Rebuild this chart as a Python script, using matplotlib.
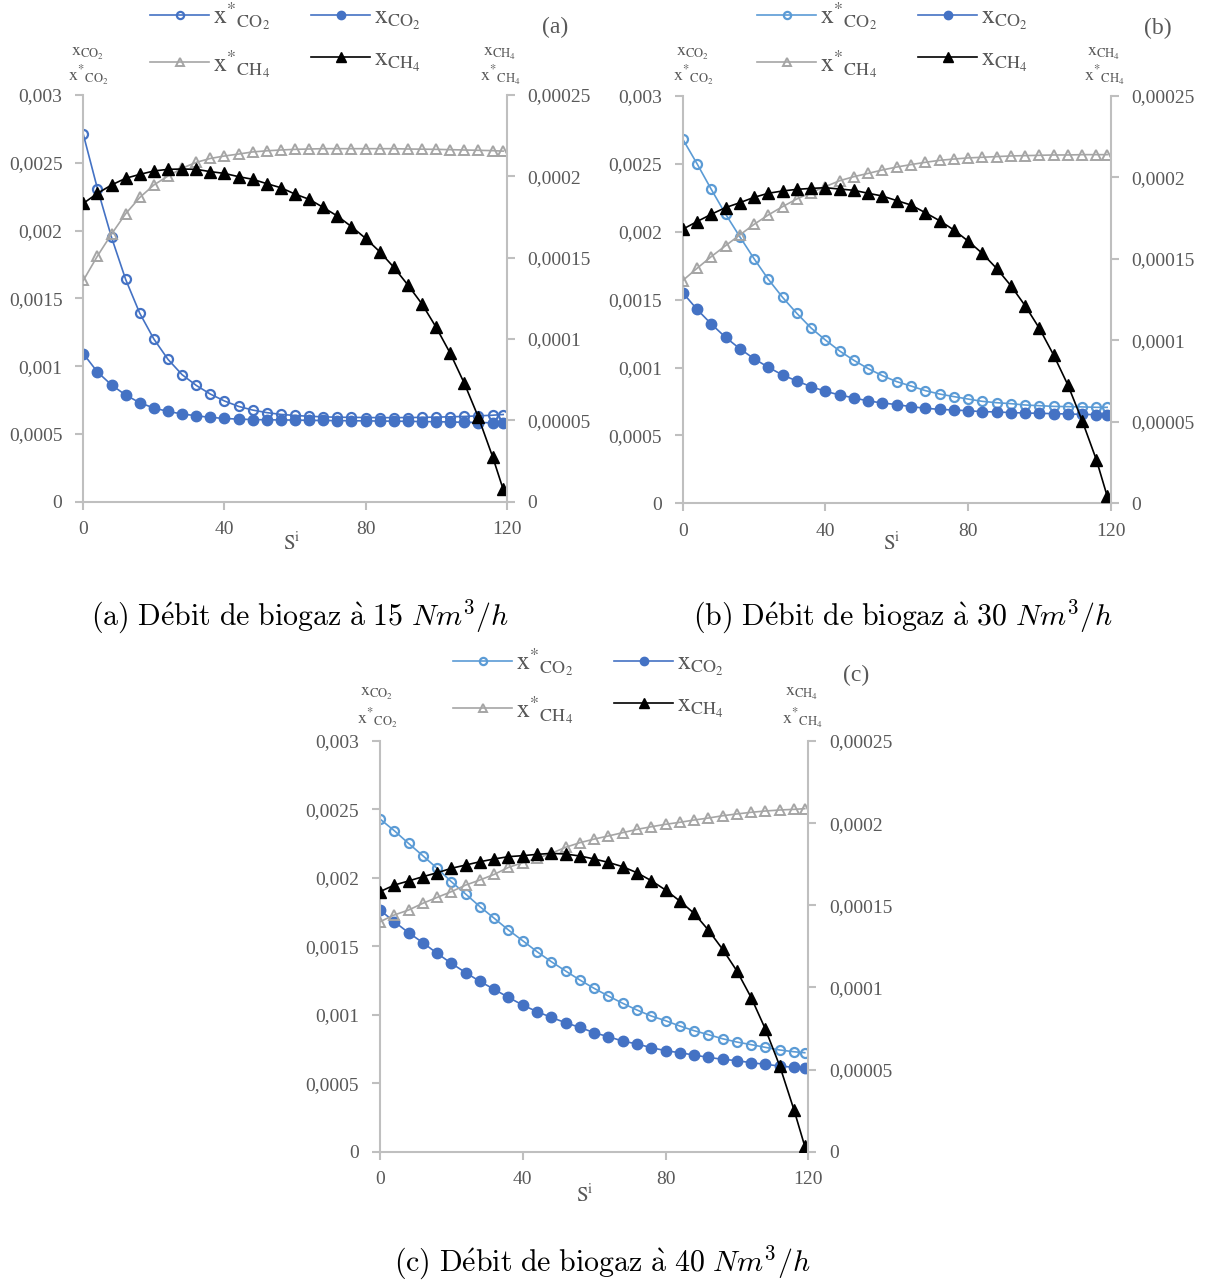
import matplotlib
matplotlib.use("Agg")
import matplotlib.pyplot as plt
from matplotlib.font_manager import FontProperties

W, H = 1205, 1282

STAGES = [0, 4, 8, 12, 16, 20, 24, 28, 32, 36, 40, 44, 48, 52, 56, 60,
          64, 68, 72, 76, 80, 84, 88, 92, 96, 100, 104, 108, 112, 116, 119]

# (a) 15 Nm3/h
A_XS_CO2 = [0.00271, 0.00231, 0.00195, 0.00164, 0.00139, 0.00120, 0.00105, 0.000937,
            0.000858, 0.000794, 0.000743, 0.000703, 0.000676, 0.000657, 0.000644, 0.000636,
            0.00063, 0.000626, 0.000623, 0.000622, 0.000621, 0.00062, 0.00062, 0.000621,
            0.000622, 0.000624, 0.000626, 0.000629, 0.000633, 0.000638, 0.000643]
A_X_CO2 = [0.001092, 0.000957, 0.000861, 0.000787, 0.00073, 0.000691, 0.000666, 0.000647,
           0.000634, 0.000622, 0.000614, 0.000609, 0.000606, 0.000604, 0.000603, 0.000602,
           0.0006, 0.000599, 0.000598, 0.000597, 0.000596, 0.000595, 0.000594, 0.000593,
           0.000591, 0.00059, 0.000588, 0.000586, 0.000584, 0.000582, 0.00058]
A_XS_CH4 = [0.000136, 0.000151, 0.0001645, 0.000177, 0.000187, 0.0001947, 0.0002002, 0.000205,
            0.0002086, 0.000211, 0.0002125, 0.0002137, 0.000215, 0.0002157, 0.0002162, 0.0002166,
            0.0002168, 0.000217, 0.000217, 0.000217, 0.000217, 0.000217, 0.000217, 0.0002168,
            0.0002167, 0.0002166, 0.0002164, 0.0002162, 0.000216, 0.0002158, 0.0002155]
A_X_CH4 = [0.0001834, 0.0001895, 0.0001947, 0.0001988, 0.0002012, 0.0002033, 0.0002043, 0.0002045,
           0.0002043, 0.0002029, 0.0002018, 0.0001998, 0.0001982, 0.0001955, 0.000193, 0.0001891,
           0.0001859, 0.0001809, 0.0001756, 0.0001691, 0.0001619, 0.0001537, 0.0001441, 0.0001332,
           0.0001215, 0.0001072, 0.0000912, 0.0000727, 0.0000518, 0.0000277, 0.0000076]

# (b) 30 Nm3/h
B_XS_CO2 = [0.002683, 0.002502, 0.002313, 0.002131, 0.001964, 0.001802, 0.00165, 0.001517,
            0.001399, 0.001291, 0.001203, 0.001122, 0.001053, 0.000992, 0.00094, 0.000896,
            0.000864, 0.00083, 0.000805, 0.000786, 0.000768, 0.000751, 0.000741, 0.000734,
            0.000724, 0.000719, 0.000714, 0.000712, 0.00071, 0.000707, 0.000707]
B_X_CO2 = [0.001552, 0.001429, 0.001321, 0.001223, 0.001139, 0.001065, 0.001002, 0.000945,
           0.000901, 0.000859, 0.000825, 0.000798, 0.000776, 0.000754, 0.000739, 0.000727,
           0.000712, 0.0007, 0.000692, 0.000687, 0.000682, 0.000675, 0.000673, 0.000668,
           0.000665, 0.000663, 0.00066, 0.000658, 0.000655, 0.000653, 0.000653]
B_XS_CH4 = [0.0001367, 0.0001442, 0.0001514, 0.0001581, 0.0001647, 0.0001712, 0.000177, 0.0001821,
            0.0001868, 0.0001907, 0.0001944, 0.000198, 0.0002005, 0.0002025, 0.0002046, 0.0002064,
            0.0002079, 0.0002093, 0.0002105, 0.0002113, 0.000212, 0.0002124, 0.0002128, 0.0002132,
            0.0002134, 0.0002136, 0.0002138, 0.0002138, 0.000214, 0.000214, 0.000214]
B_X_CH4 = [0.0001682, 0.0001729, 0.0001774, 0.0001815, 0.0001845, 0.0001878, 0.0001903, 0.0001917,
           0.0001927, 0.0001933, 0.0001937, 0.0001929, 0.0001921, 0.0001903, 0.0001886, 0.0001858,
           0.0001831, 0.0001784, 0.0001735, 0.0001678, 0.000161, 0.0001534, 0.0001442, 0.0001336,
           0.0001213, 0.0001074, 0.000091, 0.0000726, 0.0000507, 0.0000266, 0.0000045]

# (c) 40 Nm3/h
C_XS_CO2 = [0.00243, 0.002345, 0.002252, 0.002162, 0.00207, 0.001972, 0.001882, 0.00179,
            0.001705, 0.001619, 0.001541, 0.001461, 0.001388, 0.00132, 0.001254, 0.001193,
            0.001137, 0.001084, 0.001035, 0.000991, 0.000957, 0.000918, 0.000884, 0.000855,
            0.000825, 0.000801, 0.000782, 0.000762, 0.000743, 0.00073, 0.000723]
C_X_CO2 = [0.001765, 0.00168, 0.0016, 0.001527, 0.001449, 0.001376, 0.001308, 0.001244,
           0.001186, 0.001127, 0.001071, 0.001023, 0.000981, 0.000942, 0.000908, 0.000869,
           0.00084, 0.000808, 0.000787, 0.00076, 0.000738, 0.000723, 0.000706, 0.000689,
           0.000675, 0.000665, 0.00065, 0.000638, 0.000626, 0.000616, 0.000609]
C_XS_CH4 = [0.00014, 0.0001441, 0.0001471, 0.0001512, 0.0001548, 0.0001583, 0.0001623, 0.0001654,
            0.0001688, 0.0001731, 0.0001759, 0.0001786, 0.0001816, 0.0001853, 0.0001881, 0.0001903,
            0.0001922, 0.0001942, 0.0001962, 0.0001978, 0.0001993, 0.0002005, 0.0002019, 0.0002031,
            0.0002045, 0.0002056, 0.0002066, 0.0002074, 0.000208, 0.0002084, 0.0002088]
C_X_CH4 = [0.0001583, 0.0001623, 0.0001648, 0.0001674, 0.0001698, 0.0001725, 0.0001745, 0.0001765,
           0.0001782, 0.0001796, 0.0001802, 0.000181, 0.0001816, 0.0001812, 0.00018, 0.0001782,
           0.0001761, 0.0001735, 0.0001698, 0.000165, 0.0001593, 0.0001526, 0.0001451, 0.0001349,
           0.0001232, 0.00011, 0.0000938, 0.0000745, 0.0000522, 0.0000254, 0.0000034]

LEFT_TICKS = [0, 0.0005, 0.001, 0.0015, 0.002, 0.0025, 0.003]
LEFT_LABELS = ["0", "0,0005", "0,001", "0,0015", "0,002", "0,0025", "0,003"]
RIGHT_TICKS = [0, 0.00005, 0.0001, 0.00015, 0.0002, 0.00025]
RIGHT_LABELS = ["0", "0,00005", "0,0001", "0,00015", "0,0002", "0,00025"]
X_TICKS = [0, 40, 80, 120]

CAPTIONS = [r"$\mathrm{(a)\ D\acute{e}bit\ de\ biogaz\ \grave{a}\ 15\ }Nm^3/h$",
            r"$\mathrm{(b)\ D\acute{e}bit\ de\ biogaz\ \grave{a}\ 30\ }Nm^3/h$",
            r"$\mathrm{(c)\ D\acute{e}bit\ de\ biogaz\ \grave{a}\ 40\ }Nm^3/h$"]

GREY_TXT = "#595959"
SPINE = "#BFBFBF"
SERIF = "Liberation Serif"


def fx(px):
    return px / W


def fy(py):
    return 1 - py / H


def draw_panel(fig, box, data, letter, legend_xy, letter_xy, ltitle_x, rtitle_x,
               title_y, xlabel_xy, caption, caption_xy, open_color):
    left, top, right, bottom = box
    ax = fig.add_axes([fx(left), fy(bottom), fx(right - left), (bottom - top) / H])
    ax2 = ax.twinx()
    xs_co2, x_co2, xs_ch4, x_ch4 = data

    h1, = ax.plot(STAGES, xs_co2, color=open_color, lw=1.2, marker="o", ms=6.5,
                  mfc="none", mec=open_color, mew=1.6, label=r"$\mathrm{x^{*}{}_{CO_2}}$")
    h2, = ax.plot(STAGES, x_co2, color="#4472C4", lw=1.2, marker="o", ms=7.5,
                  mfc="#4472C4", mec="#4472C4", label=r"$\mathrm{x_{CO_2}}$")
    h3, = ax2.plot(STAGES, xs_ch4, color="#A5A5A5", lw=1.2, marker="^", ms=7.5,
                   mfc="none", mec="#A5A5A5", mew=1.4, label=r"$\mathrm{x^{*}{}_{CH_4}}$")
    h4, = ax2.plot(STAGES, x_ch4, color="black", lw=1.2, marker="^", ms=8.5,
                   mfc="black", mec="black", label=r"$\mathrm{x_{CH_4}}$")

    ax.set_xlim(0, 120)
    ax.set_ylim(0, 0.003)
    ax2.set_ylim(0, 0.00025)
    ax.set_xticks(X_TICKS)
    ax.set_xticklabels([str(t) for t in X_TICKS])
    ax.set_yticks(LEFT_TICKS)
    ax.set_yticklabels(LEFT_LABELS)
    ax2.set_yticks(RIGHT_TICKS)
    ax2.set_yticklabels(RIGHT_LABELS)

    for a in (ax, ax2):
        for s in a.spines.values():
            s.set_color(SPINE)
            s.set_linewidth(1.5)
        a.spines["top"].set_visible(False)
        a.tick_params(colors=SPINE, labelcolor=GREY_TXT, labelsize=14, length=6,
                      width=1.5, direction="out", pad=9)
        for lab in a.get_xticklabels() + a.get_yticklabels():
            lab.set_fontfamily(SERIF)
    ax.tick_params(axis="x", pad=8)
    ax2.spines["left"].set_visible(False)
    ax2.spines["bottom"].set_visible(False)
    ax.spines["right"].set_visible(False)

    # stacked axis titles above each y axis
    mprop = dict(color=GREY_TXT, fontsize=13, family=SERIF, math_fontfamily="stix",
                 ha="center", va="center")
    fig.text(fx(ltitle_x), fy(title_y[0]), r"$\mathrm{x_{CO_2}}$", **mprop)
    fig.text(fx(ltitle_x), fy(title_y[1]), r"$\mathrm{x^{*}{}_{CO_2}}$", **mprop)
    fig.text(fx(rtitle_x), fy(title_y[0]), r"$\mathrm{x_{CH_4}}$", **mprop)
    fig.text(fx(rtitle_x), fy(title_y[1]), r"$\mathrm{x^{*}{}_{CH_4}}$", **mprop)

    fig.text(fx(xlabel_xy[0]), fy(xlabel_xy[1]), r"$\mathrm{S^i}$", color=GREY_TXT,
             fontsize=15, math_fontfamily="stix", ha="center", va="center")
    fig.text(fx(letter_xy[0]), fy(letter_xy[1]), letter, color=GREY_TXT, fontsize=17,
             family=SERIF, ha="center", va="center")

    prop = FontProperties(family=SERIF, size=18.5, math_fontfamily="stix")
    leg = fig.legend([h1, h3, h2, h4], [h.get_label() for h in (h1, h3, h2, h4)],
                     loc="upper left", bbox_to_anchor=(fx(legend_xy[0]), fy(legend_xy[1])),
                     ncol=2, frameon=False, prop=prop, handlelength=2.3,
                     columnspacing=1.6, labelspacing=0.62, handletextpad=0.15,
                     borderpad=0, borderaxespad=0, markerscale=0.8)
    for t in leg.get_texts():
        t.set_color(GREY_TXT)

    fig.text(fx(caption_xy[0]), fy(caption_xy[1]), caption, fontsize=21.5,
             math_fontfamily="cm", ha="center", va="center", color="black")


fig = plt.figure(figsize=(W / 100, H / 100), dpi=100)

draw_panel(fig, (83.3, 95, 506.7, 501.7), (A_XS_CO2, A_X_CO2, A_XS_CH4, A_X_CH4), "(a)",
           (150, 0), (555, 27), 88, 500, (53, 76), (292, 543), CAPTIONS[0], (300, 617),
           "#4472C4")
draw_panel(fig, (682.7, 96, 1110.7, 503.3), (B_XS_CO2, B_X_CO2, B_XS_CH4, B_X_CH4), "(b)",
           (757, 0), (1158, 28), 693, 1104, (53, 76), (892, 543), CAPTIONS[1], (903, 617),
           "#5B9BD5")
draw_panel(fig, (380, 741, 808.3, 1151.7), (C_XS_CO2, C_X_CO2, C_XS_CH4, C_X_CH4), "(c)",
           (453, 646), (856, 675), 377, 802, (694, 719), (585, 1195), CAPTIONS[2], (602, 1263),
           "#5B9BD5")

fig.savefig("out.png", dpi=100)
